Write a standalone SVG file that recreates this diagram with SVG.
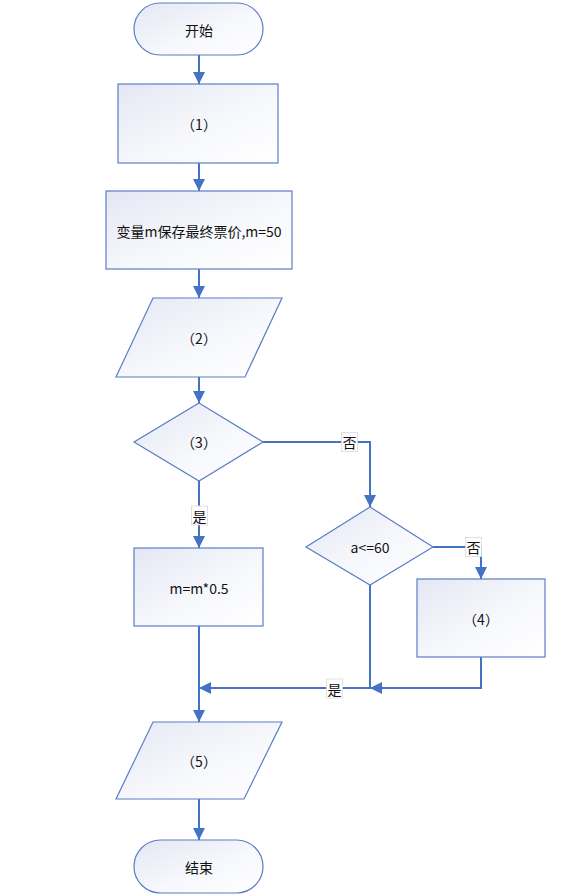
<svg xmlns="http://www.w3.org/2000/svg" width="581" height="896" viewBox="0 0 581 896">
<defs>
<linearGradient id="g" x1="0" y1="0" x2="1" y2="1">
<stop offset="0" stop-color="#e4e7f4"/>
<stop offset="0.55" stop-color="#f7f8fc"/>
<stop offset="1" stop-color="#ffffff"/>
</linearGradient>
<marker id="ah" markerUnits="userSpaceOnUse" markerWidth="12" markerHeight="12" refX="12" refY="6" orient="auto" viewBox="0 0 12 12">
<path d="M0,0 L12,6 L0,12 z" fill="#4472c4"/>
</marker>
<style>
.n{fill:url(#g);stroke:#5b7dc6;stroke-width:1.2}
.t{font-family:"Microsoft YaHei","Noto Sans CJK SC","Noto Sans",sans-serif;font-size:14px;fill:#111;text-anchor:middle;dominant-baseline:central}
.c{fill:none;stroke:#4472c4;stroke-width:2}
.lb{fill:#fff;stroke:#d9d9d9;stroke-width:0.8}
</style>
</defs>
<rect width="581" height="896" fill="#fff"/>
<g id="connectors">
<path class="c" d="M199,55 V84" marker-end="url(#ah)"/>
<path class="c" d="M199,163 V191" marker-end="url(#ah)"/>
<path class="c" d="M199,269 V298" marker-end="url(#ah)"/>
<path class="c" d="M199,377 V403" marker-end="url(#ah)"/>
<path class="c" d="M263,442 H370 V507" marker-end="url(#ah)"/>
<path class="c" d="M199,481 V548" marker-end="url(#ah)"/>
<path class="c" d="M433,547 H481 V579" marker-end="url(#ah)"/>
<path class="c" d="M199,626 V722" marker-end="url(#ah)"/>
<path class="c" d="M370,585 V688 H199" marker-end="url(#ah)"/>
<path class="c" d="M481,657 V688 H370" marker-end="url(#ah)"/>
<path class="c" d="M199,799 V840" marker-end="url(#ah)"/>
<g id="labels">
<rect class="lb" x="341.5" y="432.5" width="16" height="19"/>
<text class="t" x="349.5" y="442">否</text>
<rect class="lb" x="191.5" y="506" width="16" height="19"/>
<text class="t" x="199.5" y="515.5">是</text>
<rect class="lb" x="465.5" y="537.5" width="16" height="19"/>
<text class="t" x="473.5" y="547">否</text>
<rect class="lb" x="326.5" y="679" width="16" height="19"/>
<text class="t" x="334.5" y="688.5">是</text>
</g>
</g>
<g id="start"><rect class="n" x="134" y="3" width="129" height="52" rx="26"/><text class="t" x="199" y="30">开始</text></g>
<g id="step1"><rect class="n" x="118" y="84" width="160" height="79"/><text class="t" x="199" y="124">（1）</text></g>
<g id="init"><rect class="n" x="106" y="191" width="186" height="78"/><text class="t" x="199" y="231">变量m保存最终票价,m=50</text></g>
<g id="input2"><polygon class="n" points="153,298 282,298 245,377 116,377"/><text class="t" x="199" y="338">（2）</text></g>
<g id="cond3"><polygon class="n" points="199,403 263,442 199,481 134,442"/><text class="t" x="199" y="442">（3）</text></g>
<g id="half"><rect class="n" x="134" y="548" width="129" height="78"/><text class="t" x="199" y="588">m=m*0.5</text></g>
<g id="cond60"><polygon class="n" points="370,507 433,547 370,585 306,547"/><text class="t" x="370" y="547">a&lt;=60</text></g>
<g id="step4"><rect class="n" x="417" y="579" width="128" height="78"/><text class="t" x="481" y="619">（4）</text></g>
<g id="output5"><polygon class="n" points="153,722 282,722 244,799 116,799"/><text class="t" x="199" y="761">（5）</text></g>
<g id="end"><rect class="n" x="134" y="840" width="129" height="53" rx="26.5"/><text class="t" x="199" y="867">结束</text></g>
</svg>
